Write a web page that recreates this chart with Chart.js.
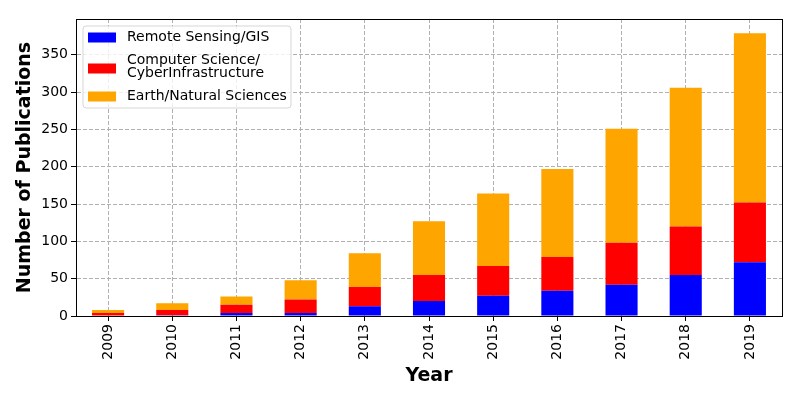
<!DOCTYPE html>
<html lang="en">
<head>
  <meta charset="UTF-8" />
  <title>Publications by Year</title>
  <script src="https://cdn.jsdelivr.net/npm/chart.js"></script>
  <style>
    * { box-sizing: border-box; }
    body { margin: 0; background: #fff; }
    .wrap { position: relative; width: 800px; height: 400px; }
  </style>
</head>
<body>
  <div class="wrap"><canvas id="pubChart" width="800" height="400"></canvas></div>

  <script>
    const years = ['2009', '2010', '2011', '2012', '2013', '2014', '2015', '2016', '2017', '2018', '2019'];
    const remoteSensing = [0, 1, 4, 4, 13, 20, 27, 34, 42, 55, 72];
    const computerScience = [4, 7, 11, 18, 26, 35, 40, 45, 56, 65, 80];
    const earthSciences = [4, 9, 11, 26, 45, 72, 97, 118, 153, 186, 227];
    const seriesNames = [['Remote Sensing/GIS'], ['Computer Science/', 'CyberInfrastructure'], ['Earth/Natural Sciences']];
    const yTicks = [0, 50, 100, 150, 200, 250, 300, 350];

    const FONT = 'DejaVu Sans';
    const colors = ['#0000ff', '#ff0000', '#ffa500'];

    // full box around the plot + matplotlib-like legend in the upper left
    const frameAndLegend = {
      id: 'frameAndLegend',
      afterDraw(chart) {
        const { ctx, chartArea: a } = chart;
        ctx.save();
        ctx.strokeStyle = '#000';
        ctx.lineWidth = 1;
        ctx.strokeRect(Math.round(a.left) + 0.5, Math.round(a.top) + 0.5,
          Math.round(a.right - a.left), Math.round(a.bottom - a.top));

        // legend box
        const x = a.left + 7, y = a.top + 7, w = 208, h = 82, r = 3;
        ctx.beginPath();
        ctx.moveTo(x + r, y);
        ctx.arcTo(x + w, y, x + w, y + h, r);
        ctx.arcTo(x + w, y + h, x, y + h, r);
        ctx.arcTo(x, y + h, x, y, r);
        ctx.arcTo(x, y, x + w, y, r);
        ctx.closePath();
        ctx.fillStyle = 'rgba(255,255,255,0.8)';
        ctx.fill();
        ctx.strokeStyle = 'rgba(204,204,204,0.8)';
        ctx.stroke();

        ctx.font = '14px ' + FONT;
        ctx.textBaseline = 'middle';
        let cy = y + 11.5;
        seriesNames.forEach((lines, i) => {
          const blockH = lines.length * 14;
          const mid = cy + (blockH - 14) / 2 + (lines.length > 1 ? 1.5 : 0);
          ctx.fillStyle = colors[i];
          ctx.fillRect(x + 5, mid - 5, 28, 10);
          ctx.fillStyle = '#000';
          lines.forEach((t, j) => ctx.fillText(t, x + 44, cy + j * 13.7));
          cy += blockH + 8.5;
        });
        ctx.restore();
      }
    };

    const gridStyle = { color: '#b0b0b0', tickColor: '#000', tickBorderDash: [], tickLength: 5, tickWidth: 1 };
    const borderStyle = { color: '#000', width: 1, dash: [4, 2] };

    new Chart(document.getElementById('pubChart'), {
      type: 'bar',
      data: {
        labels: years,
        datasets: [
          { label: seriesNames[0].join(' '), data: remoteSensing, backgroundColor: colors[0] },
          { label: seriesNames[1].join(''), data: computerScience, backgroundColor: colors[1] },
          { label: seriesNames[2].join(' '), data: earthSciences, backgroundColor: colors[2] }
        ].map(d => Object.assign(d, { barPercentage: 0.5, categoryPercentage: 1, borderWidth: 0 }))
      },
      options: {
        responsive: false,
        animation: false,
        devicePixelRatio: 1,
        layout: { padding: { left: 0, right: 18, top: 19, bottom: 0 } },
        plugins: { legend: { display: false }, tooltip: { enabled: false } },
        scales: {
          x: {
            stacked: true,
            offset: true,
            grid: Object.assign({ offset: false }, gridStyle),
            border: borderStyle,
            ticks: { color: '#000', font: { family: FONT, size: 14 }, minRotation: 90, maxRotation: 90, padding: 3 },
            title: { display: true, text: 'Year', color: '#000', font: { family: FONT, size: 19, weight: 'bold' }, padding: { top: 0, bottom: 13 } },
            afterFit(scale) { scale.height = 84; }
          },
          y: {
            stacked: true,
            min: 0,
            max: 398,
            afterBuildTicks(scale) { scale.ticks = yTicks.map(v => ({ value: v })); },
            grid: gridStyle,
            border: borderStyle,
            ticks: { color: '#000', font: { family: FONT, size: 14 }, padding: 3 },
            title: { display: true, text: 'Number of Publications', color: '#000', font: { family: FONT, size: 19, weight: 'bold' }, padding: { top: 14, bottom: 0 } },
            afterFit(scale) { scale.width = 76; }
          }
        }
      },
      plugins: [frameAndLegend]
    });
  </script>
</body>
</html>
